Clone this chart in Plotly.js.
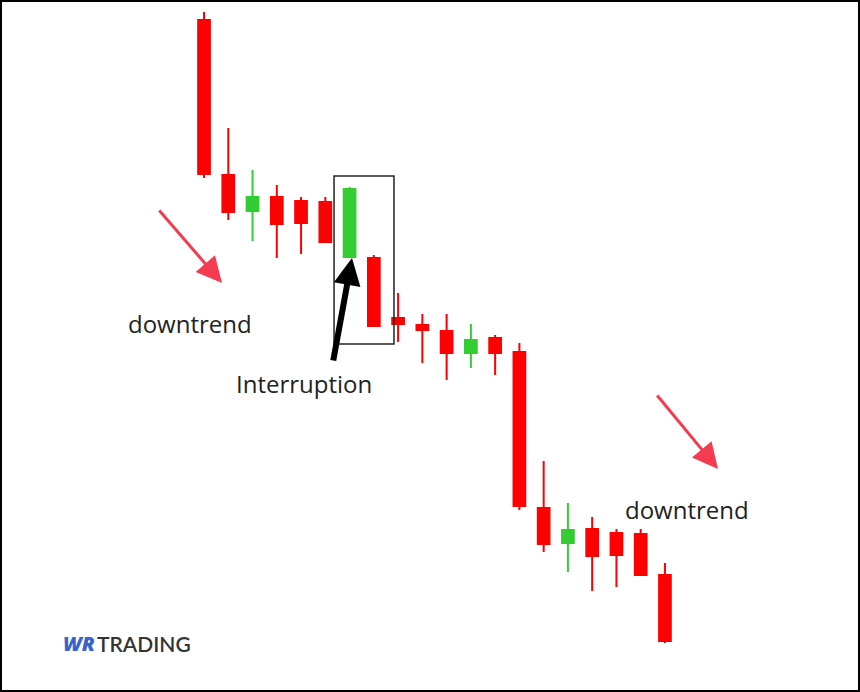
<!DOCTYPE html>
<html>
<head>
<meta charset="utf-8">
<script src="https://cdn.plot.ly/plotly-3.0.1.min.js"></script>
<style>html,body{margin:0;padding:0;background:#fff;}#chart{width:860px;height:692px;}</style>
</head>
<body>
<div id="chart"></div>
<script>
// Candle index (bar number)
const bars = [0,1,2,3,4,5,6,7,8,9,10,11,12,13,14,15,16,17,18,19];
// Prices
const opens  = [68.0,52.5,48.9,50.3,49.9,49.8,44.3,44.2,38.2,37.5,36.9,34.7,36.2,34.8,19.2,15.7,17.1,16.7,16.6,12.5];
const highs  = [68.8,57.2,53.0,51.5,50.3,50.3,51.3,44.5,40.7,38.6,38.6,37.6,36.5,35.7,23.9,19.7,18.3,17.1,17.1,13.7];
const lows   = [52.2,48.0,45.9,44.2,44.6,45.8,44.3,37.4,35.8,33.7,32.0,33.2,32.5,19.0,14.8,12.8,10.9,11.3,12.5,5.7];
const closes = [52.6,48.8,50.3,47.6,47.7,45.8,51.1,37.4,37.6,37.0,34.7,36.0,34.7,19.4,15.6,17.0,14.4,14.5,12.5,5.9];
// Text labels
const trendLabel = "downtrend";
const interruptLabel = "Interruption";
const logoA = "WR";
const logoB = "TRADING";

const W = 860, H = 692;
const px = x => x / W;
const py = y => 1 - y / H;

const trace = {
  type: 'candlestick',
  x: bars, open: opens, high: highs, low: lows, close: closes,
  increasing: {line: {color: '#33cc33', width: 2}, fillcolor: '#33cc33'},
  decreasing: {line: {color: '#ff0000', width: 2}, fillcolor: '#ff0000'},
  whiskerwidth: 0,
  hoverinfo: 'skip',
  showlegend: false
};

const red = '#f43b50';
const txt = {family: 'Open Sans', size: 24, color: '#222'};
const layout = {
  width: W, height: H,
  margin: {l: 0, r: 0, t: 0, b: 0},
  paper_bgcolor: '#ffffff', plot_bgcolor: '#ffffff',
  showlegend: false,
  boxgap: 0.31,
  xaxis: {range: [-8.41, 27.04], visible: false, showgrid: false, zeroline: false, fixedrange: true,
          rangeslider: {visible: false}},
  yaxis: {range: [0.8, 70], visible: false, showgrid: false, zeroline: false, fixedrange: true},
  shapes: [
    {type: 'rect', xref: 'paper', yref: 'paper', x0: px(1), x1: px(859), y0: py(691), y1: py(1),
     line: {color: '#000', width: 2}},
    {type: 'rect', xref: 'x', yref: 'y', x0: 5.36, x1: 7.83, y0: 35.6, y1: 52.4,
     line: {color: '#222', width: 1.5}}
  ],
  annotations: [
    {xref: 'paper', yref: 'paper', x: px(190), y: py(323), xanchor: 'center', yanchor: 'middle',
     text: trendLabel, showarrow: false, font: txt},
    {xref: 'paper', yref: 'paper', x: px(304), y: py(384), xanchor: 'center', yanchor: 'middle',
     text: interruptLabel, showarrow: false, font: txt},
    {xref: 'paper', yref: 'paper', x: px(687), y: py(509), xanchor: 'center', yanchor: 'middle',
     text: trendLabel, showarrow: false, font: txt},
    {xref: 'paper', yref: 'paper', x: px(97), y: py(643), xanchor: 'right', yanchor: 'middle', text: logoA, showarrow: false,
     font: {family: 'Open Sans', size: 20, color: '#3a63c9', weight: 800, style: 'italic'}},
    {xref: 'paper', yref: 'paper', x: px(95), y: py(643), xanchor: 'left', yanchor: 'middle', text: logoB, showarrow: false,
     font: {family: 'Lato', size: 21, color: '#333', weight: 600}},
    // black arrow
    {xref: 'paper', yref: 'paper', x: px(352), y: py(258), ax: -19, ay: 104, text: '', showarrow: true,
     arrowhead: 2, arrowsize: 0.9, arrowwidth: 6, arrowcolor: '#000', standoff: 0},
    // red arrows
    {xref: 'paper', yref: 'paper', x: px(222), y: py(283), ax: -64, ay: -74, text: '', showarrow: true,
     arrowhead: 2, arrowsize: 1.7, arrowwidth: 3, arrowcolor: red, standoff: 0},
    {xref: 'paper', yref: 'paper', x: px(718), y: py(469), ax: -62, ay: -75, text: '', showarrow: true,
     arrowhead: 2, arrowsize: 1.7, arrowwidth: 3, arrowcolor: red, standoff: 0}
  ]
};

Plotly.newPlot('chart', [trace], layout, {staticPlot: true, displayModeBar: false});
</script>
</body>
</html>
